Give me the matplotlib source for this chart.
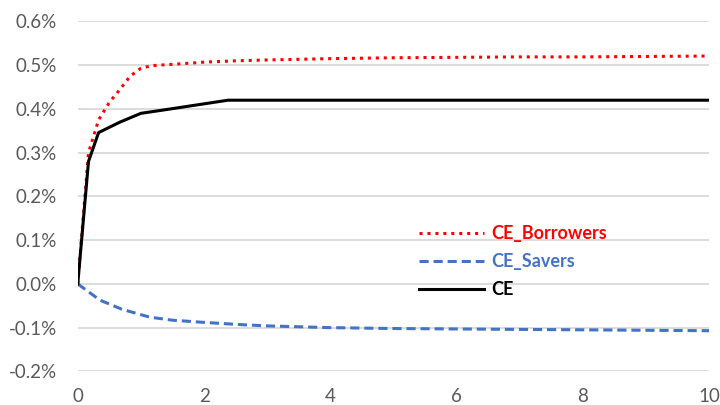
import matplotlib
matplotlib.use("Agg")
import matplotlib.pyplot as plt
from matplotlib.ticker import FuncFormatter

plt.rcParams['font.family'] = ['Lato', 'DejaVu Sans']

x_b = [0, 0.17, 0.33, 0.5, 0.67, 0.83, 1.0, 1.17, 1.5, 2.0, 2.5, 3, 4, 5, 6, 7, 8, 9, 10]
borrowers = [0.0, 0.30, 0.375, 0.415, 0.445, 0.475, 0.493, 0.499, 0.502, 0.507, 0.510, 0.512, 0.515, 0.517, 0.518, 0.519, 0.519, 0.520, 0.521]

x_s = [0, 0.35, 0.7, 1.14, 1.5, 2.0, 2.57, 3, 4, 5, 6, 7, 8, 9, 10]
savers = [0.0, -0.037, -0.058, -0.076, -0.083, -0.088, -0.093, -0.096, -0.100, -0.102, -0.103, -0.104, -0.105, -0.106, -0.107]

x_ce = [0, 0.17, 0.33, 0.67, 1.0, 1.33, 2.38, 3, 4, 5, 6, 7, 8, 9, 10]
ce = [0.0, 0.28, 0.346, 0.370, 0.390, 0.397, 0.420, 0.420, 0.420, 0.420, 0.420, 0.420, 0.420, 0.420, 0.420]

yticks = [-0.2, -0.1, 0.0, 0.1, 0.2, 0.3, 0.4, 0.5, 0.6]
xticks = [0, 2, 4, 6, 8, 10]

fig = plt.figure(figsize=(7.2, 4.05), dpi=100)
ax = fig.add_axes([0.108, 0.083, 0.877, 0.864])

ax.plot(x_b, borrowers, color="#FF0000", linestyle=(0, (1, 1.6)), linewidth=2.2, label="CE_Borrowers")
ax.plot(x_s, savers, color="#4472C4", linestyle=(0, (3, 1.6)), linewidth=2.2, label="CE_Savers")
ax.plot(x_ce, ce, color="black", linestyle="-", linewidth=2.2, label="CE")

ax.set_xlim(0, 10)
ax.set_ylim(-0.2, 0.6)
ax.set_xticks(xticks)
ax.set_yticks(yticks)
ax.yaxis.set_major_formatter(FuncFormatter(lambda v, p: f"{v:.1f}%"))
ax.grid(axis="y", color="#D9D9D9", linewidth=1.3)
ax.set_axisbelow(True)
for s in ax.spines.values():
    s.set_visible(False)
ax.tick_params(length=0, labelsize=13.5, colors="#595959")
ax.tick_params(axis="y", pad=15)
ax.tick_params(axis="x", pad=12)

leg = ax.legend(loc="upper left", bbox_to_anchor=(0.515, 0.465), frameon=False,
                prop={"weight": "bold", "size": 13}, handlelength=3.6, handletextpad=0.4,
                labelspacing=0.62)
for t, c in zip(leg.get_texts(), ["#FF0000", "#4472C4", "black"]):
    t.set_color(c)

fig.savefig("out.png", dpi=100)
